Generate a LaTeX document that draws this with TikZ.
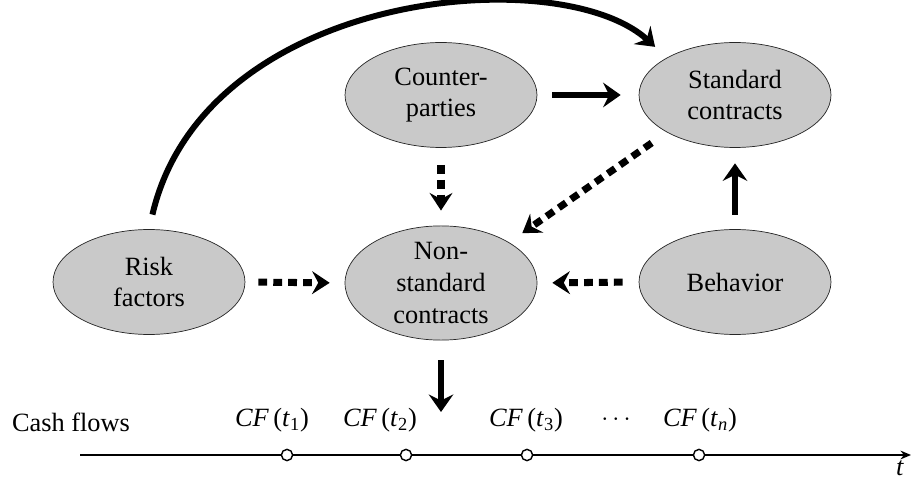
\documentclass[tikz,border=0pt]{standalone}
\usepackage{fontspec}
\setmainfont{LiberationSerif}[Extension=.ttf, UprightFont=*-Regular, ItalicFont=*-Italic, BoldFont=*-Bold, BoldItalicFont=*-BoldItalic]
\usetikzlibrary{shapes,arrows,positioning,calc,arrows.meta}

\begin{document}
\begin{tikzpicture}[x=0.02cm,y=-0.02cm,
    blob/.style={ellipse, draw=black!85, thin, fill=gray!42, minimum width=3.84cm, minimum height=2.1cm, inner sep=0pt, align=center, font=\rmfamily\fontsize{15}{18}\selectfont},
    solidarrow/.style={line width=3.4pt, -{Stealth[length=10pt,width=14pt,inset=3.5pt]}},
    dasharrow/.style={line width=4pt, dash pattern=on 5pt off 3.5pt, -{Stealth[length=10pt,width=13pt,inset=3.5pt]}},
    lbl/.style={font=\rmfamily\fontsize{15}{18}\selectfont},
    tick/.style={circle, draw, line width=0.8pt, fill=white, minimum size=6.4pt, inner sep=0pt}]
    \useasboundingbox (0,0) rectangle (912,479);

    % Contract nodes
    \node[blob] (cp) at (441,95) {Counter-\\parties};
    \node[blob] (std) at (735,95) {Standard\\contracts};
    \node[blob] (risk) at (149,282) {Risk\\factors};
    \node[blob] (nonstd) at (441,283) {Non-\\standard\\contracts};
    \node[blob] (behav) at (735,282) {Behavior};

    % Solid arrows
    \draw[solidarrow, shorten <=0.3cm, shorten >=0.32cm] (risk.north) .. controls (205,-10) and (560,-40) .. (std.north west);
    \draw[solidarrow, shorten <=0.3cm, shorten >=0.36cm] (cp.east) -- (std.west);
    \draw[solidarrow, shorten <=0.29cm, shorten >=0.31cm] (behav.north) -- (std.south);

    % Dashed arrows
    \draw[dasharrow, shorten <=0.34cm, shorten >=0.3cm] (cp.south) -- (nonstd.north);
    \draw[dasharrow, shorten <=0.37cm, shorten >=0.32cm] (std.south west) -- (nonstd.north east);
    \draw[dasharrow, shorten <=0.26cm, shorten >=0.3cm] (risk.east) -- (nonstd.west);
    \draw[dasharrow, shorten <=0.32cm, shorten >=0.3cm] (behav.west) -- (nonstd.east);

    % Cash flow time line
    \coordinate (cfdrop) at (441,412);
    \draw[solidarrow, shorten <=0.4cm] (nonstd.south) -- (cfdrop);
    \coordinate (tstart) at (80,455);
    \coordinate (tend) at (911,455);
    \draw[line width=0.9pt, -{Stealth[length=6pt,width=5pt]}] (tstart) -- (tend);
    \foreach \x [count=\k] in {287,406,527,699}
        \node[tick] (c\k) at (\x,455) {};

    \node[lbl] (cflabel) at (71,422) {Cash flows};
    \node[lbl] (cf1) at (272,420) {\textit{CF}\,(\textit{t}\textsubscript{1})};
    \node[lbl] (cf2) at (380,420) {\textit{CF}\,(\textit{t}\textsubscript{2})};
    \node[lbl] (cf3) at (526,420) {\textit{CF}\,(\textit{t}\textsubscript{3})};
    \node[lbl] (cfdots) at (616,420) {$\cdots$};
    \node[lbl] (cfn) at (700,420) {\textit{CF}\,(\textit{t}\textsubscript{\textit{n}})};
    \node[lbl, anchor=north east, inner sep=1pt] (tlab) at (906,459) {\textit{t}};
\end{tikzpicture}
\end{document}
